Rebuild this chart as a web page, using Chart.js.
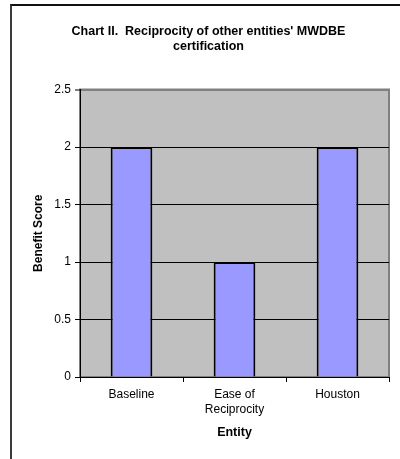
<!DOCTYPE html>
<html>
<head>
<meta charset="utf-8">
<script src="https://cdn.jsdelivr.net/npm/chart.js@4/dist/chart.umd.min.js"></script>
<style>
  html, body { margin: 0; padding: 0; background: #fff; }
  #wrap { position: relative; width: 400px; height: 459px; overflow: hidden; }
  #frame {
    position: absolute; left: 10px; top: 4px; width: 400px; height: 470px;
    border-top: 2px solid #111; border-left: 2px solid #3a3a3a;
    box-sizing: border-box; pointer-events: none;
  }
  canvas { position: absolute; left: 0; top: 0; }
</style>
</head>
<body>
<div id="wrap">
  <canvas id="chart" width="400" height="459"></canvas>
  <div id="frame"></div>
</div>
<script>
// Entities compared and their benefit scores
const entities = ['Baseline', ['Ease of', 'Reciprocity'], 'Houston'];
const benefitScores = [2, 1, 2];
const yTicks = [0, 0.5, 1, 1.5, 2, 2.5];

const titleLines = ["Chart II.  Reciprocity of other entities' MWDBE", 'certification'];
const yTitle = 'Benefit Score';
const xTitle = 'Entity';

const FONT = "Arial, 'Liberation Sans', Helvetica, sans-serif";

// Grey plot background with a grey frame, Excel style
const plotArea = {
  id: 'plotArea',
  beforeDraw(chart) {
    const { ctx, chartArea: a } = chart;
    ctx.save();
    ctx.fillStyle = '#C0C0C0';
    ctx.fillRect(a.left, a.top, a.right - a.left, a.bottom - a.top);
    ctx.strokeStyle = '#808080';
    ctx.lineWidth = 2;
    ctx.strokeRect(a.left, a.top, a.right - a.left, a.bottom - a.top);
    ctx.restore();
  }
};

new Chart(document.getElementById('chart'), {
  type: 'bar',
  data: {
    labels: entities,
    datasets: [{
      data: benefitScores,
      backgroundColor: '#9999FF',
      borderColor: '#000000',
      borderWidth: 2,
      categoryPercentage: 1,
      barPercentage: 0.405
    }]
  },
  options: {
    responsive: false,
    animation: false,
    devicePixelRatio: 1,
    layout: { padding: { left: 28, right: 11, top: 0, bottom: 0 } },
    plugins: {
      legend: { display: false },
      tooltip: { enabled: false },
      title: {
        display: true,
        text: titleLines,
        color: '#000',
        font: { family: FONT, size: 12.5, weight: 'bold', lineHeight: 1.2 },
        padding: { top: 24.5, bottom: 35 }
      }
    },
    scales: {
      x: {
        grid: {
          drawOnChartArea: false,
          drawTicks: true,
          tickLength: 5,
          color: '#000',
          offset: true
        },
        border: { display: true, color: '#000', width: 1 },
        ticks: {
          color: '#000',
          padding: 5.5,
          maxRotation: 0,
          autoSkip: false,
          font: { family: FONT, size: 12, lineHeight: 1.25 }
        },
        title: {
          display: true,
          text: xTitle,
          color: '#000',
          font: { family: FONT, size: 12.5, weight: 'bold' },
          padding: { top: 0, bottom: 18.5 }
        },
        afterFit(scale) { scale.height = 82; }
      },
      y: {
        min: 0,
        max: 2.5,
        afterBuildTicks(scale) { scale.ticks = yTicks.map(v => ({ value: v })); },
        grid: {
          color: ctx => (ctx.tick && ctx.tick.value === 2.5) ? '#808080' : '#000',
          lineWidth: ctx => (ctx.tick && ctx.tick.value === 2.5) ? 2 : 1,
          tickColor: '#000',
          tickWidth: 1,
          tickLength: 5,
          drawTicks: true
        },
        border: { display: true, color: '#000', width: 1 },
        ticks: {
          color: '#000',
          padding: 4,
          font: { family: FONT, size: 12 },
          callback: v => String(v)
        },
        title: {
          display: true,
          text: yTitle,
          color: '#000',
          font: { family: FONT, size: 12, weight: 'bold' },
          padding: { top: 3.3, bottom: 0 }
        },
        afterFit(scale) { scale.width = 52; }
      }
    }
  },
  plugins: [plotArea]
});
</script>
</body>
</html>
